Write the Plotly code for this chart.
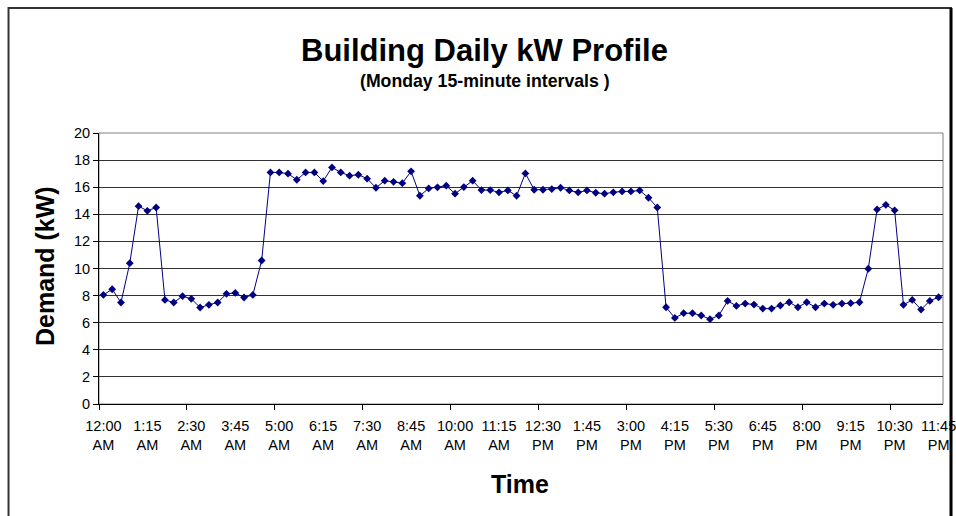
import plotly.graph_objects as go

# ---- data ----
interval_index = list(range(96))
demand_kw = [
    8.05, 8.47, 7.49, 10.39, 14.6, 14.26, 14.5, 7.68, 7.49, 7.96,
    7.76, 7.12, 7.32, 7.49, 8.13, 8.2, 7.86, 8.05, 10.59, 17.09,
    17.09, 17.0, 16.55, 17.09, 17.09, 16.45, 17.46, 17.09, 16.85, 16.92,
    16.63, 15.96, 16.48, 16.4, 16.3, 17.17, 15.37, 15.91, 15.99, 16.11,
    15.52, 16.01, 16.48, 15.79, 15.79, 15.62, 15.76, 15.37, 17.02, 15.81,
    15.81, 15.86, 15.96, 15.76, 15.62, 15.76, 15.59, 15.52, 15.62, 15.69,
    15.69, 15.76, 15.22, 14.5, 7.14, 6.35, 6.7, 6.7, 6.53, 6.26,
    6.53, 7.61, 7.24, 7.41, 7.34, 7.04, 7.04, 7.27, 7.51, 7.14,
    7.51, 7.14, 7.41, 7.32, 7.41, 7.44, 7.51, 9.98, 14.36, 14.7,
    14.29, 7.32, 7.68, 6.97, 7.61, 7.88,
]
label_positions = list(range(0, 96, 5))
tick_labels = [
    "12:00<br>AM", "1:15<br>AM", "2:30<br>AM", "3:45<br>AM", "5:00<br>AM",
    "6:15<br>AM", "7:30<br>AM", "8:45<br>AM", "10:00<br>AM", "11:15<br>AM",
    "12:30<br>PM", "1:45<br>PM", "3:00<br>PM", "4:15<br>PM", "5:30<br>PM",
    "6:45<br>PM", "8:00<br>PM", "9:15<br>PM", "10:30<br>PM", "11:45<br>PM",
]
tick_mark_positions = [i - 0.5 for i in range(0, 96, 10)]
y_ticks = list(range(0, 21, 2))

FONT = "Arial, Liberation Sans, sans-serif"
NAVY = "#000080"

fig = go.Figure()
fig.add_trace(go.Scatter(
    x=interval_index, y=demand_kw, mode="lines+markers",
    line=dict(color=NAVY, width=1),
    marker=dict(symbol="diamond", size=6, color=NAVY),
    showlegend=False, hoverinfo="skip",
))

fig.update_layout(
    width=956, height=516,
    margin=dict(l=99, r=13, t=133, b=112, autoexpand=False),
    paper_bgcolor="white", plot_bgcolor="white",
    font=dict(family=FONT, color="black"),
    xaxis=dict(
        range=[-0.5, 95.5], tickmode="array", tickvals=label_positions,
        ticktext=tick_labels, ticks="outside", ticklen=9,
        tickcolor="rgba(0,0,0,0)", showgrid=False, zeroline=False,
        showline=True, linecolor="black", linewidth=1,
        tickfont=dict(size=14.5, family=FONT, color="black"), tickangle=0,
        ticklabeloverflow="allow", automargin=False,
        minor=dict(tickmode="array", tickvals=tick_mark_positions,
                   ticks="outside", ticklen=5, tickcolor="black", showgrid=False),
    ),
    yaxis=dict(
        range=[0, 20], tickmode="array", tickvals=y_ticks,
        ticks="outside", ticklen=5, tickcolor="black", automargin=False,
        showgrid=True, gridcolor="#333333", gridwidth=1, zeroline=False,
        showline=True, linecolor="black", linewidth=1,
        tickfont=dict(size=14.5, family=FONT, color="black"),
    ),
    shapes=[
        # plot area border
        dict(type="rect", xref="paper", yref="paper", x0=0, x1=1, y0=0, y1=1,
             line=dict(color="#808080", width=1), layer="below"),
        # outer chart border
        dict(type="rect", xref="paper", yref="paper", x0=-0.1072, x1=1.0095,
             y0=-0.47, y1=1.4613, line=dict(color="#333333", width=2)),
        dict(type="line", xref="paper", yref="paper", x0=1.0095, x1=1.0095,
             y0=-0.47, y1=1.4613, line=dict(color="black", width=3)),
    ],
    annotations=[
        dict(text="<b>Building Daily kW Profile</b>", xref="paper", yref="paper",
             x=0.4571, y=1.306, xanchor="center", yanchor="middle",
             showarrow=False, font=dict(size=31, family=FONT, color="black")),
        dict(text="<b>(Monday 15-minute intervals )</b>", xref="paper", yref="paper",
             x=0.4571, y=1.1937, xanchor="center", yanchor="middle",
             showarrow=False, font=dict(size=17.7, family=FONT, color="black")),
        dict(text="<b>Demand (kW)</b>", xref="paper", yref="paper",
             x=-0.064, y=0.509, xanchor="center", yanchor="middle", textangle=-90,
             showarrow=False, font=dict(size=25, family=FONT, color="black")),
        dict(text="<b>Time</b>", xref="paper", yref="paper",
             x=0.4988, y=-0.295, xanchor="center", yanchor="middle",
             showarrow=False, font=dict(size=25, family=FONT, color="black")),
    ],
)

fig.write_html(
    "out.html",
    config={"displayModeBar": False},
    post_script="document.body.style.margin='0';document.body.style.overflow='hidden';",
)
